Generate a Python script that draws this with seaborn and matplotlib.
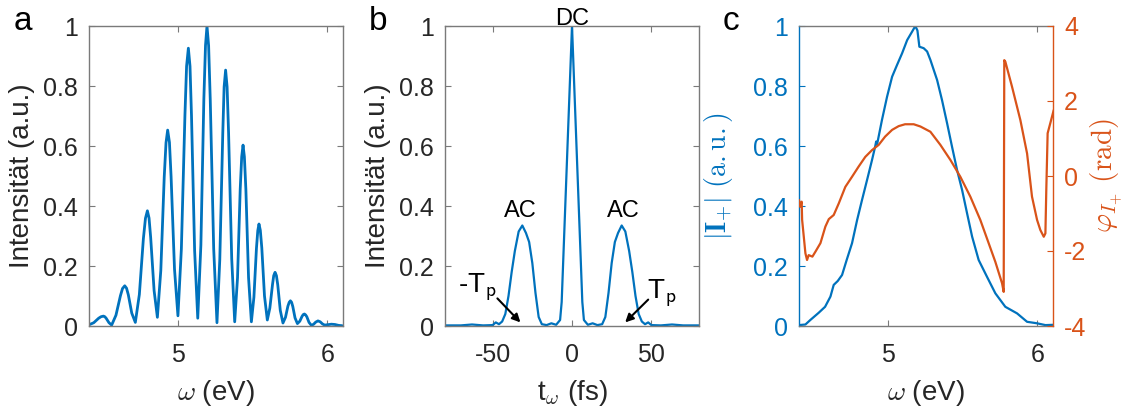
import matplotlib
matplotlib.use("Agg")
import matplotlib.pyplot as plt
import seaborn as sns
import pandas as pd

# ---------------- data ----------------
# panel a: spectral interference pattern
omega_a = [4.400,
           4.432, 4.465, 4.481, 4.497, 4.506, 4.515, 4.534, 4.552,
           4.581, 4.611, 4.625, 4.640, 4.652, 4.664, 4.687, 4.711,
           4.738, 4.765, 4.779, 4.792, 4.803, 4.814, 4.837, 4.859,
           4.882, 4.905, 4.917, 4.928, 4.940, 4.951, 4.974, 4.997,
           5.020, 5.044, 5.055, 5.067, 5.078, 5.088, 5.109, 5.130,
           5.151, 5.171, 5.182, 5.192, 5.203, 5.214, 5.237, 5.259,
           5.278, 5.298, 5.307, 5.317, 5.327, 5.337, 5.358, 5.378,
           5.397, 5.415, 5.425, 5.434, 5.443, 5.453, 5.471, 5.490,
           5.507, 5.524, 5.533, 5.541, 5.550, 5.560, 5.578, 5.597,
           5.614, 5.632, 5.640, 5.649, 5.658, 5.667, 5.684, 5.702,
           5.719, 5.735, 5.744, 5.752, 5.760, 5.768, 5.783, 5.799,
           5.815, 5.830, 5.838, 5.846, 5.854, 5.862, 5.877, 5.893,
           5.908, 5.922, 5.937, 5.952, 5.967, 5.982, 5.997, 6.012, 6.027, 6.051, 6.076, 6.100]
intensity_a = [0.004,
               0.011, 0.026, 0.031, 0.033, 0.031, 0.026, 0.011, 0.003,
               0.036, 0.101, 0.125, 0.134, 0.126, 0.104, 0.043, 0.012,
               0.105, 0.291, 0.359, 0.384, 0.360, 0.295, 0.118, 0.029,
               0.185, 0.497, 0.611, 0.653, 0.612, 0.498, 0.189, 0.034,
               0.257, 0.703, 0.866, 0.926, 0.866, 0.701, 0.251, 0.026,
               0.270, 0.757, 0.935, 1.000, 0.934, 0.753, 0.258, 0.011,
               0.222, 0.643, 0.797, 0.853, 0.797, 0.643, 0.224, 0.014,
               0.161, 0.456, 0.564, 0.603, 0.564, 0.456, 0.161, 0.014,
               0.096, 0.259, 0.318, 0.340, 0.319, 0.260, 0.100, 0.020,
               0.060, 0.139, 0.168, 0.179, 0.168, 0.137, 0.052, 0.010,
               0.029, 0.066, 0.079, 0.084, 0.079, 0.065, 0.027, 0.008,
               0.016, 0.032, 0.038, 0.040, 0.037, 0.031, 0.012, 0.002,
               0.006, 0.013, 0.017, 0.014, 0.007, 0.003, 0.004, 0.005, 0.006, 0.005, 0.002, 0.001]

# panel b: Fourier transform
t_b = [-80, -70, -63, -56, -50, -48, -46, -44, -42, -40, -38, -36, -33.6, -31.3, -29, -27, -25,
       -23, -21, -19, -16, -13, -10, -7.5, -6.5, 0, 6.5, 7.5, 10, 13, 16, 19, 21, 23, 25, 27, 29,
       31.3, 33.6, 36, 38, 40, 42, 44, 46, 48, 50, 56, 63, 70, 80]
intensity_b = [0.002, 0.002, 0.005, 0.002, 0.003, 0.012, 0.006, 0.015, 0.04, 0.10, 0.18, 0.25,
               0.315, 0.335, 0.31, 0.28, 0.21, 0.11, 0.03, 0.006, 0.003, 0.009, 0.004, 0.02, 0.08,
               1.0, 0.08, 0.02, 0.004, 0.009, 0.003, 0.006, 0.03, 0.11, 0.21, 0.28, 0.31, 0.335,
               0.315, 0.25, 0.18, 0.10, 0.04, 0.015, 0.006, 0.012, 0.003, 0.002, 0.005, 0.002, 0.002]

# panel c: amplitude and phase
omega_c_amp = [4.400, 4.443, 4.476, 4.532, 4.575, 4.611, 4.633, 4.660, 4.689, 4.720, 4.756, 4.790,
               4.823, 4.857, 4.890, 4.912, 4.918, 4.924, 4.957, 4.991, 5.025, 5.058, 5.092, 5.126,
               5.159, 5.181, 5.195, 5.208, 5.237, 5.260, 5.282, 5.327, 5.360, 5.394, 5.427, 5.461,
               5.495, 5.528, 5.562, 5.606, 5.662, 5.718, 5.785, 5.864, 5.931, 5.998, 6.054, 6.110]
amp_c = [0.003, 0.005, 0.020, 0.044, 0.064, 0.098, 0.137, 0.150, 0.170, 0.220, 0.276, 0.353,
         0.420, 0.487, 0.553, 0.600, 0.615, 0.605, 0.687, 0.764, 0.831, 0.870, 0.909, 0.953,
         0.981, 1.000, 0.985, 0.931, 0.926, 0.915, 0.887, 0.820, 0.753, 0.676, 0.598, 0.520,
         0.453, 0.376, 0.298, 0.220, 0.164, 0.109, 0.064, 0.042, 0.014, 0.009, 0.003, 0.004]
omega_c_phase = [4.400, 4.407, 4.418, 4.421, 4.443, 4.454, 4.465, 4.490, 4.510, 4.544, 4.577, 4.600,
                 4.633, 4.667, 4.711, 4.756, 4.800, 4.845, 4.890, 4.935, 4.978, 5.025, 5.069, 5.112,
                 5.170, 5.215, 5.282, 5.349, 5.416, 5.483, 5.550, 5.617, 5.673, 5.718, 5.763, 5.774,
                 5.778, 5.785, 5.830, 5.886, 5.931, 5.964, 5.998, 6.020, 6.043, 6.054, 6.060, 6.069,
                 6.087, 6.110]
phase_c = [-0.64, -0.82, -0.685, -1.17, -2.06, -2.24, -2.11, -2.15, -2.02, -1.79, -1.35, -1.15,
           -1.04, -0.73, -0.29, -0.02, 0.25, 0.51, 0.69, 0.83, 1.05, 1.23, 1.33, 1.38,
           1.38, 1.32, 1.18, 0.83, 0.43, -0.02, -0.55, -1.17, -1.79, -2.29, -2.86, -3.09,
           3.09, 3.05, 2.38, 1.49, 0.60, -0.55, -1.17, -1.44, -1.62, -1.53, -0.37, 1.14,
           1.41, 1.76]

yticks_int = [0, 0.2, 0.4, 0.6, 0.8, 1]
yticklabels_int = ["0", "0.2", "0.4", "0.6", "0.8", "1"]
xticks_omega = [5, 6]
xticks_t = [-50, 0, 50]
yticks_phase = [-4, -2, 0, 2, 4]
panel_labels = ["a", "b", "c"]

# ---------------- style ----------------
sns.set_theme(style="white")
plt.rcParams["font.family"] = ["Liberation Sans", "DejaVu Sans"]
plt.rcParams["mathtext.fontset"] = "cm"
plt.rcParams["axes.unicode_minus"] = False

BLUE = "#0072BD"
ORANGE = "#D95319"
FRAME = "#7a7a7a"
TXT = "#262626"
TICK_FS = 18
LAB_FS = 20

fig = plt.figure(figsize=(11.3, 4.15), dpi=100)
W, H = 1130.0, 415.0

def make_axes(left_px):
    return fig.add_axes([left_px / W, (H - 326) / H, 254 / W, 300 / H])

def style_box(ax):
    for s in ax.spines.values():
        s.set_color(FRAME)
        s.set_linewidth(1.0)
    ax.tick_params(axis="both", direction="in", length=4, width=0.8, color=FRAME,
                   labelsize=TICK_FS, labelcolor=TXT, top=True, right=True,
                   bottom=True, left=True)
    ax.tick_params(axis="y", pad=8)
    ax.tick_params(axis="x", pad=12)

# ----- panel a -----
ax1 = make_axes(89)
sns.lineplot(x=omega_a, y=intensity_a, ax=ax1, color=BLUE, linewidth=2.0,
             sort=False, estimator=None)
ax1.lines[-1].set_solid_joinstyle("round")
ax1.set_xlim(4.40, 6.105)
ax1.set_ylim(0, 1)
ax1.set_xticks(xticks_omega)
ax1.set_yticks(yticks_int)
ax1.set_yticklabels(yticklabels_int)
style_box(ax1)
ax1.set_xlabel(r"$\omega$ (eV)", fontsize=LAB_FS, color=TXT, labelpad=8)
ax1.set_ylabel("Intensität (a.u.)", fontsize=LAB_FS, color=TXT, labelpad=6)

# ----- panel b -----
ax2 = make_axes(445)
sns.lineplot(x=t_b, y=intensity_b, ax=ax2, color=BLUE, linewidth=1.6,
             sort=False, estimator=None)
ax2.set_xlim(-80, 80)
ax2.set_ylim(0, 1)
ax2.set_xticks(xticks_t)
ax2.set_yticks(yticks_int)
ax2.set_yticklabels(yticklabels_int)
style_box(ax2)
ax2.set_xlabel(r"t$_{\omega}$ (fs)", fontsize=LAB_FS, color=TXT, labelpad=8)
ax2.set_ylabel("Intensität (a.u.)", fontsize=LAB_FS, color=TXT, labelpad=6)
ax2.text(0, 1.005, "DC", ha="center", va="baseline", fontsize=17, color="black")
ax2.text(-32.5, 0.365, "AC", ha="center", va="baseline", fontsize=17, color="black")
ax2.text(32.5, 0.365, "AC", ha="center", va="baseline", fontsize=17, color="black")
ax2.text(-71.5, 0.11, r"-T$_{\mathsf{p}}$", ha="left", va="baseline", fontsize=20, color="black")
ax2.text(47.0, 0.09, r"T$_{\mathsf{p}}$", ha="left", va="baseline", fontsize=20, color="black")
arrow = dict(arrowstyle="-|>", color="black", lw=1.5, mutation_scale=12, shrinkA=0, shrinkB=0)
ax2.annotate("", xy=(-32.5, 0.012), xytext=(-47.0, 0.092), arrowprops=arrow)
ax2.annotate("", xy=(33.5, 0.012), xytext=(48.0, 0.088), arrowprops=arrow)

# ----- panel c -----
ax3 = make_axes(799)
ax3r = ax3.twinx()
sns.lineplot(x=omega_c_amp, y=amp_c, ax=ax3, color=BLUE, linewidth=1.6,
             sort=False, estimator=None)
sns.lineplot(x=omega_c_phase, y=phase_c, ax=ax3r, color=ORANGE, linewidth=1.6,
             sort=False, estimator=None)
ax3.set_xlim(4.40, 6.105)
ax3.set_ylim(0, 1)
ax3r.set_ylim(-4, 4)
ax3.set_xticks(xticks_omega)
ax3.set_yticks(yticks_int)
ax3.set_yticklabels(yticklabels_int)
ax3r.set_yticks(yticks_phase)
for s in ax3.spines.values():
    s.set_color(FRAME)
    s.set_linewidth(1.0)
ax3.spines["left"].set_color(BLUE)
ax3.spines["right"].set_visible(False)
for side in ["left", "top", "bottom"]:
    ax3r.spines[side].set_visible(False)
ax3r.spines["right"].set_color(ORANGE)
ax3r.spines["right"].set_linewidth(1.0)
ax3.tick_params(axis="x", direction="in", length=4, width=0.8, color=FRAME,
                labelsize=TICK_FS, labelcolor=TXT, top=True, bottom=True, pad=12)
ax3.tick_params(axis="y", direction="in", length=4, width=0.8, color=BLUE,
                labelsize=TICK_FS, labelcolor=BLUE, left=True, right=False, pad=8)
ax3r.tick_params(axis="y", direction="in", length=4, width=0.8, color=ORANGE,
                 labelsize=TICK_FS, labelcolor=ORANGE, left=False, right=True, pad=8)
ax3.set_xlabel(r"$\omega$ (eV)", fontsize=LAB_FS, color=TXT, labelpad=8)
ax3.set_ylabel(r"$|\mathbf{I}_{+}|\ \mathrm{(a.u.)}$", fontsize=LAB_FS, color=BLUE, labelpad=13)
ax3r.set_ylabel(r"$\varphi_{I_{+}}\ \mathrm{(rad)}$", fontsize=LAB_FS + 1, color=ORANGE,
                rotation=90, labelpad=2)

# panel letters
for lab, xpx in zip(panel_labels, [14, 369, 723]):
    fig.text(xpx / W, 1 - 30 / H, lab, fontsize=24, color="black", ha="left", va="baseline")

fig.savefig("out.png", dpi=100)
